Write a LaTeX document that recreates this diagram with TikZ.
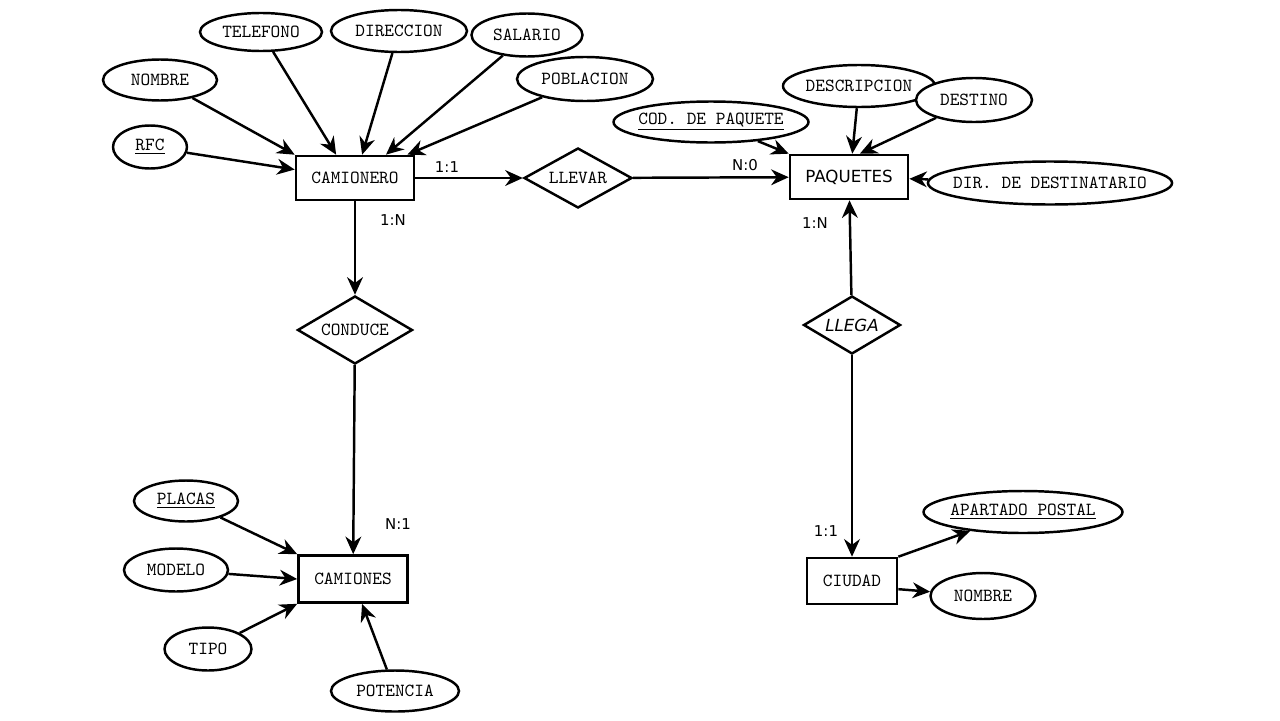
\documentclass[tikz,border=0pt]{standalone}
\usepackage{fontspec}
\newfontfamily\comicfont{DejaVu Sans}
\usetikzlibrary{arrows.meta,shapes.geometric,positioning}

\begin{document}
\begin{tikzpicture}[x=0.02cm,y=-0.02cm,
	every node/.style={font=\ttfamily\fontsize{10.5}{12}\selectfont},
	entidad/.style={draw,line width=1.5pt,inner sep=0pt},
	relacion/.style={draw,diamond,line width=1.4pt,inner sep=0pt,aspect=1.8},
	atributo/.style={draw,ellipse,line width=1.4pt,inner xsep=-6pt,inner ysep=0pt},
	card/.style={font=\comicfont\fontsize{8.5}{10}\selectfont},
	flecha/.style={line width=1.4pt,-{Stealth[length=10pt,width=9pt]}}]
	\useasboundingbox (0,0) rectangle (1280,720);
	% entidades
	\node[entidad,minimum width=2.36cm,minimum height=0.88cm] (cam) at (355,178) {CAMIONERO};
	\node[entidad,minimum width=2.36cm,minimum height=0.88cm,font=\comicfont\fontsize{9.5}{11}\selectfont] (paq) at (849,177) {PAQUETES};
	\node[entidad,minimum width=2.18cm,minimum height=0.94cm] (cmn) at (353,579) {CAMIONES};
	\node[entidad,minimum width=1.8cm,minimum height=0.92cm] (ciu) at (852,581) {CIUDAD};
	% relaciones
	\node[relacion,minimum width=2.16cm,minimum height=1.2cm] (llevar) at (578,178) {LLEVAR};
	\node[relacion,minimum width=2.3cm,minimum height=1.36cm] (conduce) at (355,330) {CONDUCE};
	\node[relacion,minimum width=1.94cm,minimum height=1.16cm,font=\comicfont\itshape\fontsize{9.5}{11}\selectfont] (llega) at (852,325) {LLEGA};
	% atributos de camionero
	\node[atributo,minimum width=2.44cm,minimum height=0.76cm] (tel) at (261,32) {TELEFONO};
	\node[atributo,minimum width=2.72cm,minimum height=0.84cm] (dir) at (399,31) {DIRECCION};
	\node[atributo,minimum width=2.22cm,minimum height=0.86cm] (sal) at (527,35) {SALARIO};
	\node[atributo,minimum width=2.28cm,minimum height=0.82cm] (nom) at (160,80) {NOMBRE};
	\node[atributo,minimum width=2.72cm,minimum height=0.88cm] (pob) at (585,79) {POBLACION};
	\node[atributo,minimum width=1.48cm,minimum height=0.86cm] (rfc) at (150,147) {\underline{RFC}};
	% atributos de paquetes
	\node[atributo,minimum width=3.9cm,minimum height=0.82cm] (cod) at (711,122) {\underline{COD. DE PAQUETE}};
	\node[atributo,minimum width=3.04cm,minimum height=0.84cm] (desc) at (859,86) {DESCRIPCION};
	\node[atributo,minimum width=2.32cm,minimum height=0.88cm,fill=white] (dest) at (974,100) {DESTINO};
	\node[atributo,minimum width=4.72cm,minimum height=0.86cm] (ddest) at (1050,183) {DIR. DE DESTINATARIO};
	% atributos de camiones
	\node[atributo,minimum width=2.08cm,minimum height=0.82cm] (pla) at (186,501) {\underline{PLACAS}};
	\node[atributo,minimum width=2.08cm,minimum height=0.86cm] (mod) at (176,570) {MODELO};
	\node[atributo,minimum width=1.74cm,minimum height=0.86cm] (tipo) at (208,649) {TIPO};
	\node[atributo,minimum width=2.56cm,minimum height=0.82cm] (pot) at (395,691) {POTENCIA};
	% atributos de ciudad
	\node[atributo,minimum width=3.98cm,minimum height=0.84cm] (apo) at (1023,512) {\underline{APARTADO POSTAL}};
	\node[atributo,minimum width=2.1cm,minimum height=0.92cm] (nom2) at (983,596) {NOMBRE};
	% conexiones
	\draw[flecha] (nom) -- (cam.north west);
	\draw[flecha] (tel) -- (cam.129);
	\draw[flecha] (dir) -- (cam.73);
	\draw[flecha] (sal) -- (cam.37);
	\draw[flecha] (pob) -- (cam.24);
	\draw[flecha] (rfc) -- (cam.172);
	\draw[flecha] (cam) -- (llevar);
	\draw[flecha] (llevar) -- (paq);
	\draw[flecha] (cam) -- (conduce);
	\draw[flecha] (conduce) -- (cmn);
	\draw[flecha] (llega) -- (paq);
	\draw[flecha] (llega) -- (ciu);
	\draw[flecha] (cod) -- (paq.north west);
	\draw[flecha] (desc) -- (paq.82);
	\draw[flecha] (dest) -- (paq.65);
	\draw[flecha] (ddest) -- (paq);
	\draw[flecha] (pla) -- (cmn.north west);
	\draw[flecha] (mod) -- (cmn.west);
	\draw[flecha] (tipo) -- (cmn.south west);
	\draw[flecha] (pot) -- (cmn.-70);
	\draw[flecha] (ciu.north east) -- (apo);
	\draw[flecha] (ciu.-10) -- (nom2);
	% cardinalidades
	\node[card] (c1) at (447,167) {1:1};
	\node[card] (c2) at (745,165) {N:0};
	\node[card] (c3) at (393,220) {1:N};
	\node[card] (c4) at (398,524) {N:1};
	\node[card] (c5) at (815,223) {1:N};
	\node[card] (c6) at (826,531) {1:1};
\end{tikzpicture}
\end{document}
